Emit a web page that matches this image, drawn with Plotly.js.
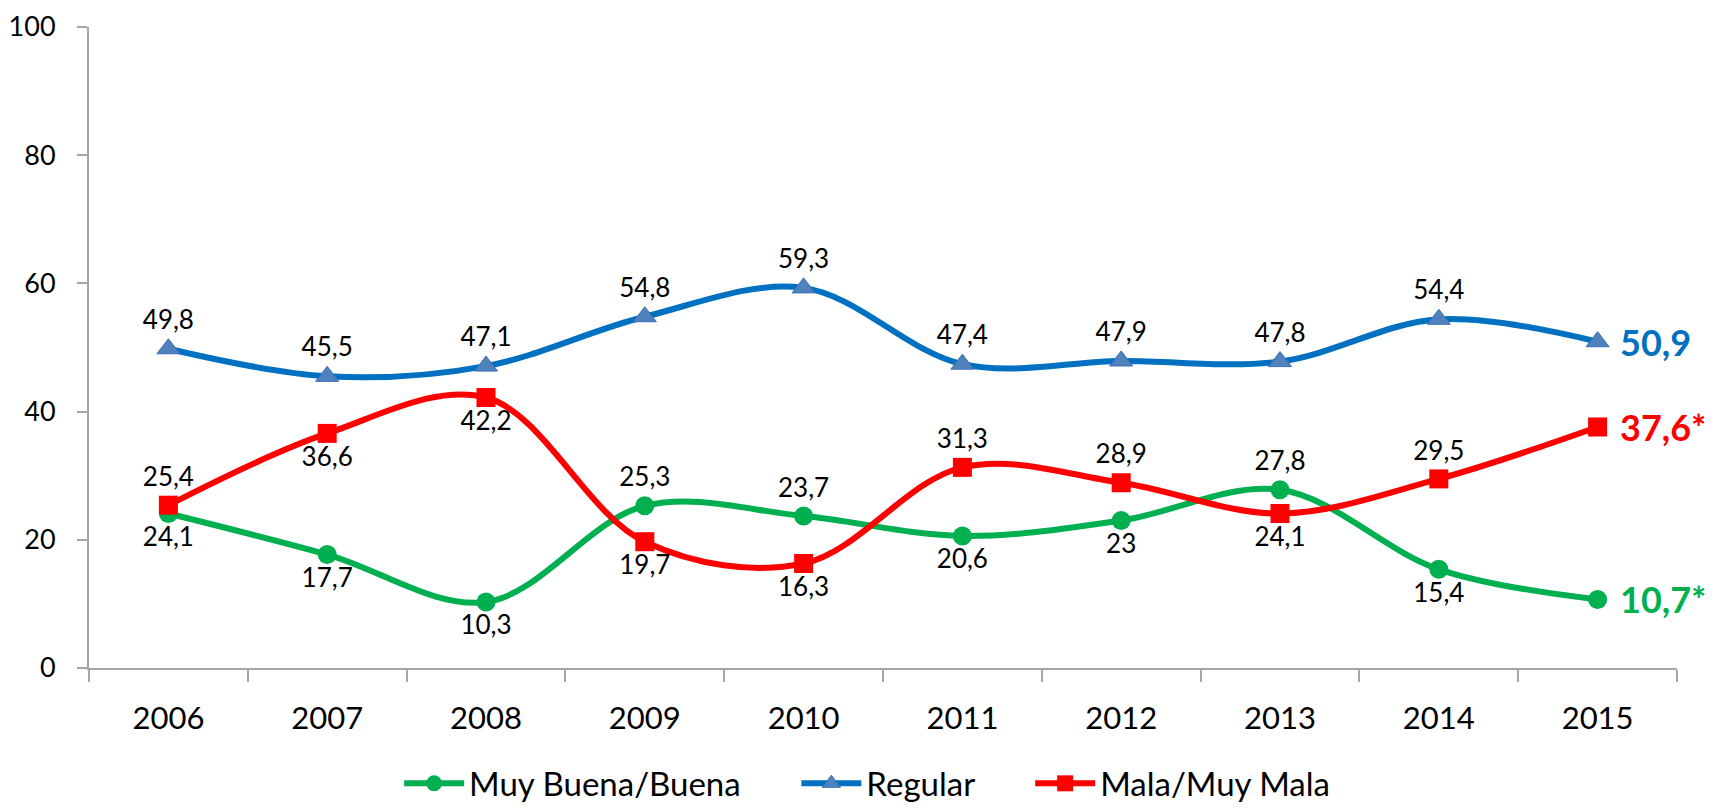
<!DOCTYPE html>
<html>
<head>
<meta charset="utf-8">
<script src="https://cdn.plot.ly/plotly-3.0.1.min.js"></script>
<style>html,body{margin:0;padding:0;background:#fff;}#chart{width:1717px;height:809px;}</style>
</head>
<body>
<div id="chart"></div>
<script>
const years = ['2006','2007','2008','2009','2010','2011','2012','2013','2014','2015'];
const seriesNames = ['Muy Buena/Buena', 'Regular', 'Mala/Muy Mala'];
const buena = [24.1, 17.7, 10.3, 25.3, 23.7, 20.6, 23, 27.8, 15.4, 10.7];
const regular = [49.8, 45.5, 47.1, 54.8, 59.3, 47.4, 47.9, 47.8, 54.4, 50.9];
const mala = [25.4, 36.6, 42.2, 19.7, 16.3, 31.3, 28.9, 24.1, 29.5, 37.6];
const buenaPos = ['bottom center','bottom center','bottom center','top center','top center','bottom center','bottom center','top center','bottom center','middle right'];
const regularPos = ['top center','top center','top center','top center','top center','top center','top center','top center','top center','middle right'];
const malaPos = ['top center','bottom center','bottom center','bottom center','bottom center','top center','top center','bottom center','top center','middle right'];
const endMarks = ['*', '', '*'];

const fmt = v => String(v).replace('.', ',');
const labels = arr => arr.map((v, i) => i === arr.length - 1 ? '' : fmt(v));
const pad = (s, last) => last ? s : s + '\u00a0\u00a0\u00a0\u00a0\u00a0\u00a0';

const FONT = 'Lato, "Open Sans", sans-serif';
const cGreen = '#00B050', cBlue = '#0070C0', cRed = '#FF0000';

const traces = [
  {x: years, y: buena, name: pad(seriesNames[0]), type: 'scatter', mode: 'lines+markers+text',
   line: {color: cGreen, width: 6, shape: 'spline', smoothing: 1},
   marker: {symbol: 'circle', size: 19, color: cGreen},
   text: labels(buena), textposition: buenaPos, textfont: {family: FONT, size: 26, color: '#000'}, cliponaxis: false},
  {x: years, y: regular, name: pad(seriesNames[1]), type: 'scatter', mode: 'lines+markers+text',
   line: {color: cBlue, width: 6, shape: 'spline', smoothing: 1},
   marker: {symbol: 'triangle-up', size: 20, color: '#4F81BD', line: {color: '#3A6FB8', width: 1}},
   text: labels(regular), textposition: regularPos, textfont: {family: FONT, size: 26, color: '#000'}, cliponaxis: false},
  {x: years, y: mala, name: pad(seriesNames[2], true), type: 'scatter', mode: 'lines+markers+text',
   line: {color: cRed, width: 6, shape: 'spline', smoothing: 1},
   marker: {symbol: 'square', size: 19, color: cRed},
   text: labels(mala), textposition: malaPos, textfont: {family: FONT, size: 26, color: '#000'}, cliponaxis: false}
];

const series = [buena, regular, mala];
const colors = [cGreen, cBlue, cRed];
const annotations = series.map((s, k) => ({
  x: years.length - 1, y: s[s.length - 1], xref: 'x', yref: 'y',
  text: '<b>' + fmt(s[s.length - 1]) + endMarks[k] + '</b>',
  showarrow: false, xanchor: 'left', yanchor: 'middle', xshift: 20,
  font: {family: FONT, size: 36, color: colors[k]}
}));

const layout = {
  width: 1717, height: 809,
  margin: {l: 89, r: 40, t: 27, b: 141, autoexpand: false},
  paper_bgcolor: '#fff', plot_bgcolor: '#fff',
  font: {family: FONT, color: '#000'},
  showlegend: true,
  legend: {orientation: 'h', x: 0.49, xanchor: 'center', y: -0.18, yanchor: 'middle',
           font: {family: FONT, size: 33, color: '#000'}, itemwidth: 60, tracegroupgap: 0},
  xaxis: {type: 'category', range: [-0.5, 9.5], showgrid: false, zeroline: false,
          showline: true, linecolor: '#A6A6A6', linewidth: 2,
          ticks: 'outside', tickson: 'boundaries', ticklen: 12, tickcolor: '#A6A6A6', tickwidth: 2,
          ticklabelstandoff: 22,
          tickfont: {family: FONT, size: 31, color: '#000'}},
  yaxis: {range: [0, 100], tickvals: [0, 20, 40, 60, 80, 100], showgrid: false, zeroline: false,
          showline: true, linecolor: '#A6A6A6', linewidth: 2,
          ticks: 'outside', ticklen: 10, tickcolor: '#A6A6A6', tickwidth: 2,
          ticklabelstandoff: 16,
          tickfont: {family: FONT, size: 27, color: '#000'}},
  annotations: annotations
};

Plotly.newPlot('chart', traces, layout, {displayModeBar: false, staticPlot: true});
</script>
</body>
</html>
